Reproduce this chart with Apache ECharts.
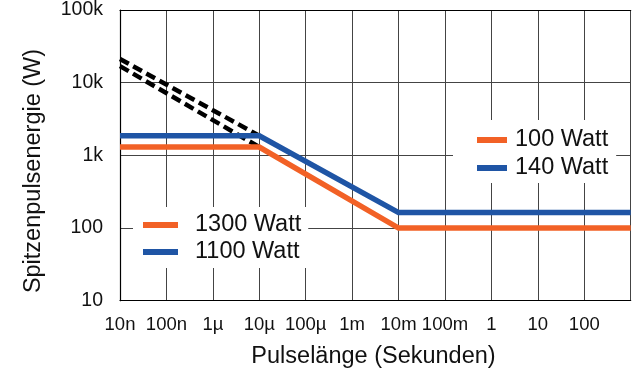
<!DOCTYPE html>
<html>
<head>
<meta charset="utf-8">
<script src="https://cdn.jsdelivr.net/npm/echarts@6/dist/echarts.min.js"></script>
<style>
html,body{margin:0;padding:0;background:#fff;}
#chart{width:638px;height:374px;}
</style>
</head>
<body>
<div id="chart"></div>
<script>
// Pulse length (s) and peak pulse energy values
const orangeX = [1e-8, 1e-5, 1e-2, 1e3];
const orangeY = [1300, 1300, 100, 100];
const blueX = [1e-8, 1e-5, 1e-2, 1e3];
const blueY = [1860, 1860, 163, 163];
const dashOrangeX = [1e-8, 1e-5];
const dashOrangeY = [16900, 1300];
const dashBlueX = [1e-8, 1e-5];
const dashBlueY = [21200, 1860];
const xTickLabels = ['10n','100n','1µ','10µ','100µ','1m','10m','100m','1','10','100',''];
const yTickLabels = ['10','100','1k','10k','100k'];
const legendTop = ['100 Watt','140 Watt'];
const legendBottom = ['1300 Watt','1100 Watt'];
const xTitle = 'Pulselänge (Sekunden)';
const yTitle = 'Spitzenpulsenergie (W)';

const ORANGE = '#F26126';
const BLUE = '#1F55A5';
const zip = (xs, ys) => xs.map((x, i) => [x, ys[i]]);

const chart = echarts.init(document.getElementById('chart'), null, {renderer: 'canvas'});
const sans = "'Liberation Sans',Arial,sans-serif";

const option = {
  animation: false,
  backgroundColor: '#fff',
  grid: {left: 120, right: 7.3, top: 9.5, bottom: 73.3, containLabel: false},
  xAxis: [{
    type: 'log', logBase: 10, min: 1e-8, max: 1e3, interval: 1,
    axisLine: {show: true, lineStyle: {color: '#000', width: 1.2}},
    axisTick: {show: false},
    splitLine: {show: true, lineStyle: {color: '#444', width: 1}},
    axisLabel: {
      margin: 15, color: '#111', fontFamily: sans, fontSize: 18.5,
      formatter: v => xTickLabels[Math.round(Math.log10(v)) + 8] || ''
    }
  }, {
    type: 'log', logBase: 10, min: 1e-8, max: 1e3, position: 'top',
    axisLine: {show: true, lineStyle: {color: '#000', width: 1.2}},
    axisTick: {show: false}, axisLabel: {show: false}, splitLine: {show: false}
  }],
  yAxis: {
    type: 'log', logBase: 10, min: 10, max: 1e5, interval: 1,
    axisLine: {show: true, lineStyle: {color: '#000', width: 1.2}},
    axisTick: {show: false},
    splitLine: {show: true, lineStyle: {color: '#444', width: 1}},
    axisLabel: {
      margin: 17, color: '#111', fontFamily: sans, fontSize: 19.5,
      formatter: v => yTickLabels[Math.round(Math.log10(v)) - 1] || ''
    }
  },
  legend: [{
    orient: 'vertical', left: 453, top: 120, padding: [8, 8, 3, 24],
    backgroundColor: '#fff', data: legendTop, icon: 'rect',
    itemWidth: 30, itemHeight: 6, itemGap: 4, selectedMode: false,
    textStyle: {fontFamily: sans, fontSize: 23.5, color: '#111', lineHeight: 24, padding: [0, 0, 0, 3]}
  }, {
    orient: 'vertical', left: 133, top: 207, padding: [6, 7, 4, 10],
    backgroundColor: '#fff', data: legendBottom, icon: 'rect',
    itemWidth: 35, itemHeight: 6, itemGap: 3, selectedMode: false,
    textStyle: {fontFamily: sans, fontSize: 23.5, color: '#111', lineHeight: 24, padding: [0, 0, 0, 12]}
  }],
  graphic: [{
    type: 'text', x: 373.5, y: 357,
    style: {text: xTitle, font: '23.5px ' + sans, fill: '#111', textAlign: 'center', textVerticalAlign: 'middle'}
  }, {
    type: 'text', x: 34, y: 171, rotation: Math.PI / 2,
    style: {text: yTitle, font: '23.5px ' + sans, fill: '#111', textAlign: 'center', textVerticalAlign: 'middle'}
  }],
  series: [
    {name: '1300 Watt', type: 'line', data: [], symbol: 'none', color: ORANGE, lineStyle: {color: ORANGE, width: 5}},
    {name: '1100 Watt', type: 'line', data: [], symbol: 'none', color: BLUE, lineStyle: {color: BLUE, width: 5}},
    {name: 'dash1', type: 'line', data: zip(dashOrangeX, dashOrangeY), symbol: 'none', z: 3,
     lineStyle: {color: '#000', width: 4.5, type: [10, 5], cap: 'butt'}},
    {name: 'dash2', type: 'line', data: zip(dashBlueX, dashBlueY), symbol: 'none', z: 3,
     lineStyle: {color: '#000', width: 4.5, type: [10, 5], cap: 'butt'}},
    {name: '100 Watt', type: 'line', data: zip(orangeX, orangeY), symbol: 'none', color: ORANGE, z: 4,
     lineStyle: {color: ORANGE, width: 5.5, join: 'miter'}},
    {name: '140 Watt', type: 'line', data: zip(blueX, blueY), symbol: 'none', color: BLUE, z: 4,
     lineStyle: {color: BLUE, width: 5.5, join: 'miter'}}
  ]
};
chart.setOption(option);
</script>
</body>
</html>
